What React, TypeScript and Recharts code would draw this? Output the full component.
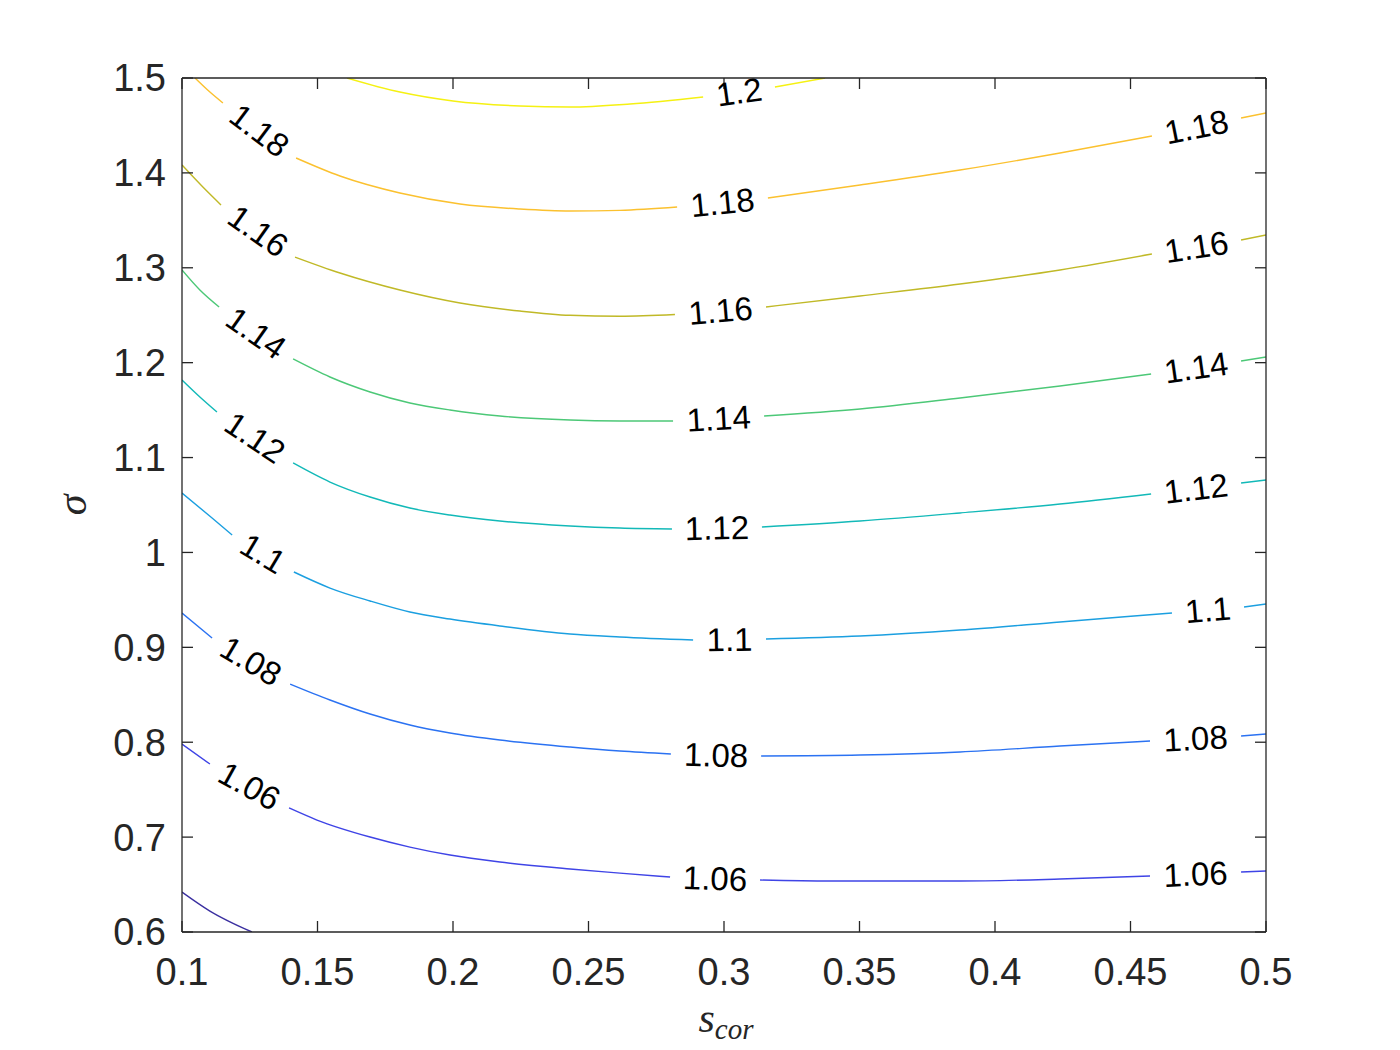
import React from 'react';
import { ComposedChart, Line, Scatter, XAxis, YAxis } from 'recharts';

type Pt = [number, number] | null;

// contour levels and their parula colours
const LEVELS = [1.04, 1.06, 1.08, 1.1, 1.12, 1.14, 1.16, 1.18, 1.2];
const COLORS = ['#3a2fa0', '#3f44e6', '#2b72f2', '#1b9fe0', '#12b9b8', '#4cc877', '#c0b927', '#fbc12f', '#f5f112'];

const X_TICKS = [0.1, 0.15, 0.2, 0.25, 0.3, 0.35, 0.4, 0.45, 0.5];
const Y_TICKS = [0.6, 0.7, 0.8, 0.9, 1, 1.1, 1.2, 1.3, 1.4, 1.5];

// contour points (s_cor, sigma); null = gap where the label sits
const C104: Pt[] = [[0.1, 0.6421], [0.1103, 0.6221], [0.1258, 0.6]];
const C106: Pt[] = [[0.1, 0.7981], [0.1103, 0.777], null, [0.1395, 0.7307], [0.1498, 0.718], [0.1694, 0.7001], [0.1841, 0.6895], [0.1989, 0.6811], [0.2173, 0.6737], [0.2432, 0.6664], [0.2616, 0.6621], [0.2801, 0.6579], null, [0.3133, 0.6548], [0.3391, 0.6537], [0.3871, 0.6537], [0.424, 0.6558], [0.4572, 0.659], null, [0.4908, 0.6632], [0.5, 0.6643]];
const C108: Pt[] = [[0.1, 0.9362], [0.1111, 0.9098], null, [0.1399, 0.8613], [0.1546, 0.8445], [0.1694, 0.8297], [0.1841, 0.8181], [0.1989, 0.8097], [0.2173, 0.8023], [0.2432, 0.7949], [0.2616, 0.7907], [0.2804, 0.7876], null, [0.3137, 0.7855], [0.3502, 0.7865], [0.3871, 0.7897], [0.424, 0.796], [0.4572, 0.8013], null, [0.4908, 0.8065], [0.5, 0.8086]];
const C110: Pt[] = [[0.1, 1.0626], [0.1111, 1.0363], [0.1185, 1.0184], null, [0.1413, 0.9794], [0.1546, 0.9625], [0.1694, 0.9488], [0.1841, 0.9372], [0.1989, 0.9298], [0.2173, 0.9225], [0.2432, 0.914], [0.2616, 0.9109], [0.2886, 0.9077], null, [0.3155, 0.9088], [0.3502, 0.9119], [0.3871, 0.9182], [0.424, 0.9267], [0.4653, 0.9362], null, [0.4919, 0.9425], [0.5, 0.9456]];
const C112: Pt[] = [[0.1, 1.1817], [0.1066, 1.1638], [0.1129, 1.148], null, [0.141, 1.0943], [0.1546, 1.0742], [0.1694, 1.0584], [0.1841, 1.0468], [0.1989, 1.0394], [0.2173, 1.0331], [0.2432, 1.0279], [0.2616, 1.0257], [0.2808, 1.0247], null, [0.314, 1.0268], [0.3502, 1.0331], [0.3871, 1.0416], [0.424, 1.051], [0.4576, 1.0616], null, [0.4908, 1.0732], [0.5, 1.0763]];
const C114: Pt[] = [[0.1, 1.2977], [0.1066, 1.2766], [0.1137, 1.2587], null, [0.141, 1.2039], [0.1546, 1.1849], [0.1694, 1.1691], [0.1841, 1.1575], [0.1989, 1.1501], [0.2173, 1.1438], [0.2432, 1.1396], [0.2616, 1.1386], [0.2812, 1.1385], null, [0.3148, 1.1438], [0.3502, 1.1512], [0.3871, 1.1628], [0.424, 1.1754], [0.4576, 1.1881], null, [0.4908, 1.2017], [0.5, 1.206]];
const C116: Pt[] = [[0.1, 1.4083], [0.1077, 1.3851], [0.1144, 1.3662], null, [0.1417, 1.3113], [0.1583, 1.2945], [0.1804, 1.2766], [0.2026, 1.2629], [0.2247, 1.2544], [0.2432, 1.2499], [0.2616, 1.2489], [0.2819, 1.2507], null, [0.3155, 1.2587], [0.3502, 1.2703], [0.3871, 1.2829], [0.424, 1.2977], [0.4579, 1.3145], null, [0.4908, 1.3293], [0.5, 1.3345]];
const C118: Pt[] = [[0.1048, 1.5], [0.1103, 1.4852], [0.1151, 1.4737], null, [0.1421, 1.4157], [0.1583, 1.3967], [0.1804, 1.3788], [0.2026, 1.3672], [0.2247, 1.3619], [0.2432, 1.3598], [0.2616, 1.3605], [0.2827, 1.364], null, [0.3162, 1.3735], [0.3502, 1.3872], [0.3871, 1.403], [0.424, 1.421], [0.4579, 1.4389], null, [0.4908, 1.4578], [0.5, 1.4631]];
const C120: Pt[] = [[0.1609, 1.5], [0.1804, 1.4852], [0.2, 1.4758], [0.2247, 1.4705], [0.2432, 1.4694], [0.2653, 1.4726], [0.2923, 1.48], null, [0.3188, 1.4905], [0.3373, 1.5]];

const CONTOURS = [C104, C106, C108, C110, C112, C114, C116, C118, C120];

const W = 1400;
const H = 1050;
const MARGIN = { top: 77, right: 133, bottom: 8, left: 82 };
const Y_AXIS_W = 100;
const X_AXIS_H = 110;
const PLOT_W = W - MARGIN.left - MARGIN.right - Y_AXIS_W - 1;
const PLOT_H = H - MARGIN.top - MARGIN.bottom - X_AXIS_H - 1;
const PX_X = PLOT_W / 0.4;
const PX_Y = PLOT_H / 0.9;

const FONT = '"Liberation Sans", Arial, Helvetica, sans-serif';
const SERIF = '"Liberation Serif", "DejaVu Serif", serif';
const INK = '#262626';

function lineData(pts: Pt[]) {
  return pts.map((p, i) => {
    if (p) return { x: p[0], y: p[1] };
    const a = pts[i - 1] as [number, number];
    const b = pts[i + 1] as [number, number];
    return { x: (a[0] + b[0]) / 2, y: null };
  });
}

function labelData(pts: Pt[], level: number) {
  const out: { x: number; y: number; text: string; angle: number }[] = [];
  pts.forEach((p, i) => {
    if (p) return;
    const a = pts[i - 1] as [number, number];
    const b = pts[i + 1] as [number, number];
    const dx = (b[0] - a[0]) * PX_X;
    const dy = -(b[1] - a[1]) * PX_Y;
    out.push({
      x: (a[0] + b[0]) / 2,
      y: (a[1] + b[1]) / 2,
      text: String(level),
      angle: (Math.atan2(dy, dx) * 180) / Math.PI,
    });
  });
  return out;
}

const LABELS = CONTOURS.flatMap((c, i) => labelData(c, LEVELS[i]));

const ContourLabel = (props: any) => {
  const { cx, cy, payload } = props;
  return (
    <text
      x={cx}
      y={cy}
      textAnchor="middle"
      dominantBaseline="central"
      transform={`rotate(${payload.angle}, ${cx}, ${cy})`}
      fontFamily={FONT}
      fontSize={33}
      fill="#000"
    >
      {payload.text}
    </text>
  );
};

const XLabel = (props: any) => {
  const { x, y, width } = props.viewBox;
  return (
    <text x={x + width / 2 + 2} y={y + 100} textAnchor="middle" fontFamily={SERIF} fontStyle="italic" fill={INK}>
      <tspan fontSize={42}>s</tspan>
      <tspan fontSize={29} dy={7}>cor</tspan>
    </text>
  );
};

const YLabel = (props: any) => {
  const { y, height } = props.viewBox;
  const cx = 76;
  const cy = y + height / 2;
  return (
    <text x={cx} y={cy} textAnchor="middle" dominantBaseline="middle" transform={`rotate(-90, ${cx}, ${cy})`} fontFamily={SERIF} fontStyle="italic" fontSize={42} fill={INK}>
      σ
    </text>
  );
};

const tickStyle = { fill: INK, fontSize: 38, fontFamily: FONT };
const axisLine = { stroke: INK, strokeWidth: 1.3 };
const blank = () => '';

export default function App() {
  return (
    <div style={{ position: 'absolute', left: 0, top: 0, background: '#fff' }}>
      <ComposedChart width={W} height={H} margin={MARGIN}>
        <XAxis
          xAxisId="b"
          type="number"
          dataKey="x"
          domain={[0.1, 0.5]}
          ticks={X_TICKS}
          allowDataOverflow
          height={X_AXIS_H}
          tickSize={-11}
          tickMargin={37}
          tick={tickStyle}
          axisLine={axisLine}
          tickLine={axisLine}
          label={<XLabel />}
        />
        <XAxis
          xAxisId="t"
          orientation="top"
          type="number"
          dataKey="x"
          domain={[0.1, 0.5]}
          ticks={X_TICKS}
          allowDataOverflow
          height={1}
          tickSize={-11}
          tickFormatter={blank}
          axisLine={axisLine}
          tickLine={axisLine}
        />
        <YAxis
          yAxisId="l"
          type="number"
          dataKey="y"
          domain={[0.6, 1.5]}
          ticks={Y_TICKS}
          allowDataOverflow
          width={Y_AXIS_W}
          tickSize={-11}
          tickMargin={27}
          tick={tickStyle}
          axisLine={axisLine}
          tickLine={axisLine}
          label={<YLabel />}
        />
        <YAxis
          yAxisId="r"
          orientation="right"
          type="number"
          dataKey="y"
          domain={[0.6, 1.5]}
          ticks={Y_TICKS}
          allowDataOverflow
          width={1}
          tickSize={-11}
          tickFormatter={blank}
          axisLine={axisLine}
          tickLine={axisLine}
        />
        {CONTOURS.map((c, i) => (
          <Line
            key={LEVELS[i]}
            xAxisId="b"
            yAxisId="l"
            data={lineData(c)}
            dataKey="y"
            type="monotone"
            stroke={COLORS[i]}
            strokeWidth={1.4}
            dot={false}
            activeDot={false}
            isAnimationActive={false}
          />
        ))}
        <Scatter
          xAxisId="b"
          yAxisId="l"
          data={LABELS}
          dataKey="y"
          shape={<ContourLabel />}
          isAnimationActive={false}
        />
      </ComposedChart>
    </div>
  );
}
